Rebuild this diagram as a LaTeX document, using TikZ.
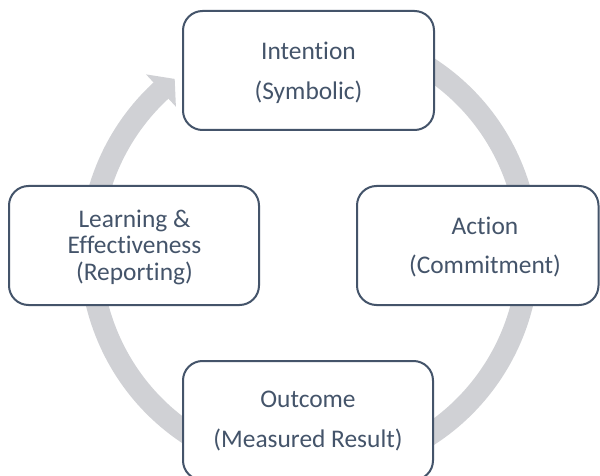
\documentclass[tikz,border=0pt]{standalone}
\usepackage{fontspec}
\setmainfont{Carlito}[Ligatures={NoCommon,NoContextual}]
\begin{document}
\begin{tikzpicture}[x=1pt,y=1pt]
\definecolor{slate}{RGB}{68,84,106}
\definecolor{ringgrey}{RGB}{208,209,213}
\tikzset{
  stage/.style={draw=slate, line width=2pt, fill=white, rounded corners=19.5pt,
                minimum height=119pt, inner sep=0pt},
  caption/.style={text=slate, align=center, inner sep=0pt,
                  font=\fontsize{25.4}{39.5}\selectfont},
  tightcaption/.style={caption, font=\fontsize{25.4}{25.85}\selectfont},
}
\clip (0,0) rectangle (600,-476);
\fill[white] (0,0) rectangle (600,-476);

% the cycle: a thick grey ring ending in an arrowhead
\coordinate (c) at (309.5,-251.5);
\draw[ringgrey, line width=22pt]
  ([shift={(110:219)}]c) arc[start angle=110, end angle=-227.5, radius=219];
\fill[ringgrey] ([shift={(132.7:241)}]c) -- ([shift={(128:219)}]c)
  -- ([shift={(132.7:197)}]c) -- cycle;

% the four stages
\node[stage, minimum width=251pt]   (intent) at (308.5,-70.5)   {};
\node[stage, minimum width=250pt]   (learn)  at (134,-245.5)    {};
\node[stage, minimum width=241.5pt] (act)    at (477.75,-245.5) {};
\node[stage, minimum width=250pt]   (outc)   at (308,-420.5)    {};

\node[caption] (intentT) at (308.5,-71.8) {\strut Intention\\\strut (Symbolic)};
\node[caption] (actT)    at (485,-246.3)  {\strut Action\\\strut (Commitment)};
\node[caption] (outcT)   at (308,-419.8)  {\strut Outcome\\\strut (Measured Result)};
\node[tightcaption] (learnT) at (134.5,-248.8)
  {\strut Learning \&\\\strut Effectiveness\\\strut (Reporting)};
\end{tikzpicture}
\end{document}
